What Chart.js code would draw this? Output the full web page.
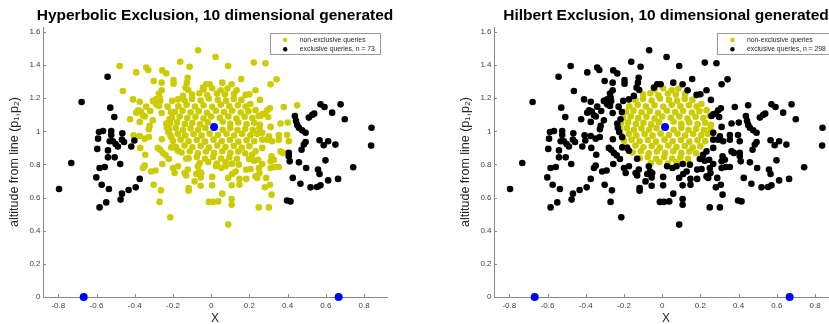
<!DOCTYPE html>
<html>
<head>
<meta charset="utf-8">
<script src="https://cdn.jsdelivr.net/npm/chart.js@4"></script>
<style>
    html, body { margin: 0; padding: 0; background: #fff; overflow: hidden; }
    #wrap { position: relative; width: 829px; height: 324px; overflow: hidden; }
    .panel { position: absolute; top: 0; width: 451px; height: 324px; }
</style>
</head>
<body>
<div id="wrap">
    <div class="panel" style="left:0"><canvas id="hyperbolic"></canvas></div>
    <div class="panel" style="left:451px"><canvas id="hilbert"></canvas></div>
</div>
<script>
// reference points p1, p2 and the centre point
const anchorPoints = [[-0.667, 0], [0.667, 0], [0.015, 1.027]];

// queries near the centre: non-exclusive in both panels
const corePoints = [
    [-0.04, 1.252], [0.005, 1.26], [0.05, 1.248], [0.085, 1.258],
    [-0.1, 1.222], [-0.062, 1.23], [-0.02, 1.218], [0.03, 1.228], [0.072, 1.222], [0.12, 1.226],
    [-0.14, 1.188], [-0.1, 1.195], [-0.055, 1.186], [-0.012, 1.198], [0.035, 1.19], [0.078, 1.185], [0.118, 1.196], [0.158, 1.19],
    [-0.172, 1.152], [-0.128, 1.16], [-0.085, 1.15], [-0.04, 1.158], [0.005, 1.148], [0.05, 1.16], [0.095, 1.152], [0.14, 1.158], [0.18, 1.15], [0.205, 1.165],
    [-0.19, 1.118], [-0.15, 1.125], [-0.108, 1.115], [-0.065, 1.122], [-0.022, 1.112], [0.025, 1.124], [0.068, 1.116], [0.11, 1.124], [0.155, 1.114], [0.195, 1.122], [0.232, 1.128],
    [-0.205, 1.082], [-0.165, 1.09], [-0.125, 1.08], [-0.082, 1.088], [-0.04, 1.078], [0.0, 1.09], [0.045, 1.082], [0.09, 1.09], [0.132, 1.078], [0.175, 1.088], [0.215, 1.08], [0.248, 1.092],
    [-0.215, 1.048], [-0.178, 1.055], [-0.138, 1.045], [-0.098, 1.052], [-0.058, 1.042], [-0.018, 1.055], [0.06, 1.058], [0.1, 1.046], [0.142, 1.054], [0.185, 1.044], [0.225, 1.052], [0.255, 1.04],
    [-0.22, 1.012], [-0.185, 1.02], [-0.148, 1.008], [-0.108, 1.018], [-0.068, 1.01], [-0.03, 1.02], [0.06, 1.01], [0.1, 1.02], [0.138, 1.008], [0.178, 1.016], [0.218, 1.008], [0.252, 1.018],
    [-0.215, 0.978], [-0.175, 0.985], [-0.135, 0.975], [-0.092, 0.984], [-0.05, 0.974], [-0.008, 0.986], [0.035, 0.978], [0.08, 0.985], [0.12, 0.975], [0.162, 0.984], [0.205, 0.976], [0.24, 0.985],
    [-0.2, 0.942], [-0.16, 0.95], [-0.118, 0.94], [-0.075, 0.948], [-0.032, 0.938], [0.012, 0.95], [0.055, 0.94], [0.098, 0.948], [0.142, 0.938], [0.185, 0.946], [0.225, 0.94],
    [-0.185, 0.906], [-0.14, 0.914], [-0.098, 0.904], [-0.055, 0.912], [-0.012, 0.902], [0.032, 0.914], [0.075, 0.905], [0.118, 0.912], [0.16, 0.902], [0.2, 0.91],
    [-0.155, 0.872], [-0.112, 0.88], [-0.07, 0.868], [-0.028, 0.878], [0.015, 0.87], [0.058, 0.88], [0.1, 0.87], [0.142, 0.878], [0.178, 0.868],
    [-0.118, 0.838], [-0.075, 0.845], [-0.032, 0.835], [0.01, 0.845], [0.052, 0.836], [0.095, 0.844], [0.135, 0.835],
    [-0.06, 0.808], [-0.015, 0.815], [0.03, 0.806], [0.075, 0.814], [0.11, 0.805]
];

// non-exclusive for hyperbolic, exclusive for hilbert
const ringPoints = [
    [-0.068, 1.49], [-0.162, 1.42], [-0.113, 1.39], [-0.479, 1.395], [-0.392, 1.356], [-0.34, 1.385], [-0.329, 1.37],
    [-0.256, 1.368], [-0.235, 1.35], [-0.301, 1.304], [-0.259, 1.294], [-0.197, 1.31], [-0.197, 1.288], [-0.123, 1.324],
    [-0.127, 1.294], [-0.134, 1.264], [-0.12, 1.25], [-0.026, 1.284], [-0.008, 1.284], [-0.043, 1.264], [-0.462, 1.244],
    [-0.259, 1.248], [-0.273, 1.228], [-0.27, 1.204], [-0.409, 1.193], [-0.374, 1.179], [-0.305, 1.184], [-0.288, 1.193],
    [-0.267, 1.184], [-0.204, 1.184], [-0.174, 1.193], [-0.148, 1.214], [-0.34, 1.149], [-0.319, 1.123], [-0.288, 1.163],
    [-0.273, 1.153], [-0.228, 1.149], [-0.382, 1.127], [-0.392, 1.113], [-0.368, 1.119], [-0.357, 1.097], [-0.347, 1.09],
    [-0.424, 1.073], [-0.374, 1.057], [-0.305, 1.067], [-0.259, 1.111], [-0.211, 1.117], [-0.218, 1.073], [-0.322, 1.033],
    [-0.326, 1.012], [-0.235, 1.047], [-0.232, 1.022], [-0.225, 0.996], [-0.406, 0.976], [-0.374, 0.972], [-0.326, 0.966],
    [-0.348, 0.956], [-0.258, 0.952], [-0.209, 0.964], [-0.209, 0.903], [-0.371, 0.9], [-0.279, 0.9], [-0.267, 0.889],
    [-0.253, 0.87], [-0.238, 0.855], [-0.183, 0.9], [-0.174, 0.883], [-0.345, 0.859], [-0.221, 0.833], [-0.131, 0.835],
    [-0.256, 0.803], [-0.357, 0.779], [-0.348, 0.793], [-0.314, 0.758], [-0.291, 0.764], [-0.2, 0.779], [-0.174, 0.789],
    [-0.191, 0.749], [-0.122, 0.769], [-0.139, 0.749], [-0.131, 0.734], [-0.07, 0.789], [-0.064, 0.758], [-0.052, 0.749],
    [-0.078, 0.743], [-0.055, 0.722], [-0.087, 0.698], [-0.055, 0.672], [-0.301, 0.678], [-0.263, 0.644], [-0.118, 0.658],
    [-0.118, 0.642], [-0.27, 0.574], [-0.214, 0.481],
    [0.023, 1.449], [0.089, 1.395], [0.223, 1.415], [0.284, 1.411], [0.058, 1.294], [0.107, 1.284], [0.157, 1.316],
    [0.342, 1.314], [0.311, 1.284], [0.133, 1.248], [0.18, 1.22], [0.2, 1.224], [0.232, 1.248], [0.255, 1.19],
    [0.307, 1.139], [0.293, 1.127], [0.267, 1.103], [0.281, 1.107], [0.258, 1.093], [0.298, 1.087], [0.38, 1.147],
    [0.45, 1.157], [0.363, 1.047], [0.401, 1.053], [0.311, 1.027], [0.267, 0.992], [0.354, 0.978], [0.397, 0.978],
    [0.267, 0.95], [0.293, 0.95], [0.319, 0.94], [0.302, 0.97], [0.354, 0.95], [0.406, 0.94], [0.267, 0.9],
    [0.232, 0.879], [0.214, 0.859], [0.363, 0.879], [0.375, 0.87], [0.316, 0.849], [0.328, 0.829], [0.311, 0.819],
    [0.197, 0.833], [0.223, 0.823], [0.246, 0.829], [0.267, 0.803], [0.026, 0.789], [0.054, 0.779], [0.075, 0.789],
    [0.107, 0.803], [0.145, 0.799], [0.128, 0.758], [0.11, 0.743], [0.183, 0.769], [0.206, 0.773], [0.249, 0.779],
    [0.253, 0.749], [0.232, 0.728], [0.241, 0.719], [0.311, 0.779], [0.333, 0.785], [0.354, 0.785], [0.005, 0.725],
    [0.005, 0.674], [0.089, 0.719], [0.107, 0.674], [0.148, 0.678], [0.148, 0.713], [0.183, 0.713], [0.288, 0.719],
    [0.307, 0.678], [0.281, 0.662], [0.058, 0.624], [0.316, 0.618], [0.107, 0.592], [0.107, 0.557], [-0.012, 0.574],
    [0.009, 0.574], [0.037, 0.577], [0.249, 0.541], [0.302, 0.541], [0.089, 0.437]
];

// exclusive in both panels
const outerPoints = [
    [-0.542, 1.33], [-0.678, 1.177], [-0.528, 1.143], [-0.507, 1.087], [-0.587, 0.996], [-0.566, 1.002], [-0.523, 1.002],
    [-0.523, 0.978], [-0.465, 0.988], [-0.592, 0.956], [-0.531, 0.94], [-0.514, 0.94], [-0.5, 0.924], [-0.488, 0.909],
    [-0.467, 0.95], [-0.456, 0.936], [-0.418, 0.909], [-0.402, 0.945], [-0.596, 0.894], [-0.54, 0.885], [-0.54, 0.843],
    [-0.505, 0.843], [-0.732, 0.809], [-0.476, 0.803], [-0.584, 0.779], [-0.557, 0.785], [-0.601, 0.722], [-0.573, 0.678],
    [-0.535, 0.652], [-0.432, 0.646], [-0.395, 0.662], [-0.374, 0.713], [-0.796, 0.652], [-0.467, 0.624], [-0.474, 0.588],
    [-0.549, 0.571], [-0.584, 0.541],
    [0.572, 1.163], [0.593, 1.147], [0.677, 1.163], [0.633, 1.113], [0.511, 1.083], [0.528, 1.099], [0.539, 1.107],
    [0.438, 1.093], [0.444, 1.063], [0.45, 1.039], [0.459, 1.022], [0.699, 1.073], [0.476, 1.006], [0.494, 0.992],
    [0.839, 1.022], [0.494, 0.936], [0.485, 0.92], [0.567, 0.946], [0.589, 0.916], [0.612, 0.94], [0.65, 0.92],
    [0.837, 0.914], [0.406, 0.87], [0.473, 0.889], [0.406, 0.849], [0.411, 0.819], [0.459, 0.813], [0.598, 0.825],
    [0.497, 0.779], [0.559, 0.769], [0.567, 0.743], [0.743, 0.783], [0.427, 0.719], [0.612, 0.704], [0.664, 0.713],
    [0.467, 0.684], [0.52, 0.662], [0.554, 0.664], [0.572, 0.674], [0.397, 0.583], [0.415, 0.577]
];

const xTicks = [-0.8, -0.6, -0.4, -0.2, 0, 0.2, 0.4, 0.6, 0.8];
const xTickLabels = ['-0.8', '-0.6', '-0.4', '-0.2', '0', '0.2', '0.4', '0.6', '0.8'];
const yTicks = [0, 0.2, 0.4, 0.6, 0.8, 1, 1.2, 1.4, 1.6];
const yTickLabels = ['0', '0.2', '0.4', '0.6', '0.8', '1', '1.2', '1.4', '1.6'];

const yellow = '#cccc00';
const axisColor = '#8a8a8a';
const textColor = '#404040';

Chart.defaults.font.family = "'Liberation Sans', Arial, Helvetica, sans-serif";

const toXY = list => list.map(p => ({ x: p[0], y: p[1] }));

// title, inward tick marks and boxed legend, drawn the matlab way
const panelDecor = {
    id: 'panelDecor',
    beforeDatasetsDraw(chart) {
        const { ctx, chartArea, scales } = chart;
        ctx.save();
        ctx.strokeStyle = axisColor;
        ctx.lineWidth = 1;
        ctx.beginPath();
        scales.x.ticks.forEach(t => {
            const px = Math.round(scales.x.getPixelForValue(t.value)) + 0.5;
            ctx.moveTo(px, chartArea.bottom);
            ctx.lineTo(px, chartArea.bottom - 3);
        });
        scales.y.ticks.forEach(t => {
            const py = Math.round(scales.y.getPixelForValue(t.value)) + 0.5;
            ctx.moveTo(chartArea.left, py);
            ctx.lineTo(chartArea.left + 3, py);
        });
        ctx.stroke();
        ctx.restore();
    },
    afterDraw(chart, args, opts) {
        const { ctx, chartArea } = chart;
        ctx.save();
        // title
        ctx.font = "bold 15.5px 'Liberation Sans', Arial, sans-serif";
        ctx.fillStyle = '#000';
        ctx.textAlign = 'center';
        ctx.textBaseline = 'alphabetic';
        ctx.fillText(opts.title, (chartArea.left + chartArea.right) / 2, 20);

        // legend
        const items = chart.data.datasets.filter(ds => ds.label);
        ctx.font = "6.8px 'Liberation Sans', Arial, sans-serif";
        const textW = Math.max(...items.map(ds => ctx.measureText(ds.label).width));
        const boxW = 30.5 + textW + 5;
        const boxRight = chartArea.right - 7;
        const boxLeft = boxRight - boxW;
        const boxTop = 33;
        ctx.fillStyle = '#fff';
        ctx.fillRect(boxLeft, boxTop, boxW, 21);
        ctx.strokeStyle = '#9a9a9a';
        ctx.lineWidth = 1;
        ctx.strokeRect(Math.round(boxLeft) + 0.5, boxTop + 0.5, Math.round(boxW), 21);
        ctx.textAlign = 'left';
        ctx.textBaseline = 'middle';
        items.forEach((ds, i) => {
            const cy = boxTop + 7 + i * 9.3;
            ctx.fillStyle = ds.backgroundColor;
            ctx.beginPath();
            ctx.arc(boxLeft + 15.7, cy, 2.2, 0, Math.PI * 2);
            ctx.fill();
            ctx.fillStyle = '#262626';
            ctx.fillText(ds.label, boxLeft + 30.3, cy);
        });
        ctx.restore();
    }
};

function makePanel(canvasId, title, yellowPoints, blackPoints, blackLabel) {
    return new Chart(document.getElementById(canvasId), {
        type: 'scatter',
        data: {
            datasets: [
                {
                    label: 'non-exclusive queries',
                    data: toXY(yellowPoints),
                    backgroundColor: yellow,
                    pointRadius: 3.3,
                    pointBorderWidth: 0,
                    order: 2
                },
                {
                    label: blackLabel,
                    data: toXY(blackPoints),
                    backgroundColor: '#000000',
                    pointRadius: 3.3,
                    pointBorderWidth: 0,
                    order: 1
                },
                {
                    data: toXY(anchorPoints),
                    backgroundColor: '#0000ff',
                    pointRadius: 4,
                    pointBorderWidth: 0,
                    clip: false,
                    order: 0
                }
            ]
        },
        options: {
            responsive: true,
            maintainAspectRatio: false,
            animation: false,
            layout: { padding: { top: 27, right: 64, bottom: 0, left: 0 } },
            plugins: {
                legend: { display: false },
                tooltip: { enabled: false },
                panelDecor: { title: title }
            },
            scales: {
                x: {
                    type: 'linear',
                    min: -0.88,
                    max: 0.92,
                    afterBuildTicks: scale => { scale.ticks = xTicks.map(v => ({ value: v })); },
                    afterFit: scale => { scale.height = 27; },
                    ticks: {
                        callback: (value, index) => xTickLabels[index],
                        font: { size: 8 },
                        color: textColor,
                        padding: 3.5,
                        maxRotation: 0
                    },
                    grid: { display: false, drawTicks: false },
                    border: { display: true, color: axisColor, width: 1 },
                    title: {
                        display: true,
                        text: 'X',
                        font: { size: 12, lineHeight: 0.9 },
                        color: '#262626',
                        padding: { top: 0, bottom: 0 }
                    }
                },
                y: {
                    type: 'linear',
                    min: 0,
                    max: 1.63,
                    afterBuildTicks: scale => { scale.ticks = yTicks.map(v => ({ value: v })); },
                    afterFit: scale => { scale.width = 43; },
                    ticks: {
                        callback: (value, index) => yTickLabels[index],
                        font: { size: 8 },
                        color: textColor,
                        padding: 2.5
                    },
                    grid: { display: false, drawTicks: false },
                    border: { display: true, color: axisColor, width: 1 },
                    title: {
                        display: true,
                        text: 'altitude from line (p\u2081,p\u2082)',
                        font: { size: 12.5, lineHeight: 1.2 },
                        color: '#262626',
                        padding: { top: 7.5, bottom: 0 }
                    }
                }
            }
        },
        plugins: [panelDecor]
    });
}

// Hyperbolic: only the outer queries are exclusive
makePanel('hyperbolic', 'Hyperbolic Exclusion, 10 dimensional generated',
    corePoints.concat(ringPoints), outerPoints, 'exclusive queries, n = 73');

// Hilbert: everything outside the centre ball is exclusive
makePanel('hilbert', 'Hilbert Exclusion, 10 dimensional generated',
    corePoints, ringPoints.concat(outerPoints), 'exclusive queries, n = 298');
</script>
</body>
</html>
